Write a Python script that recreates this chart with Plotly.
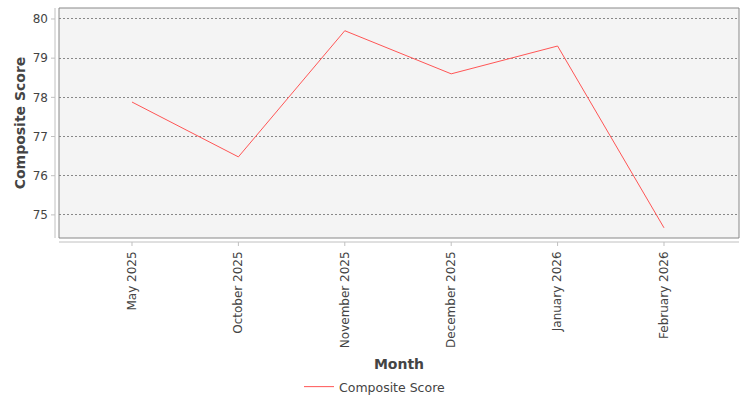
import plotly.graph_objects as go

months = ["May 2025", "October 2025", "November 2025", "December 2025", "January 2026", "February 2026"]
scores = [77.88, 76.48, 79.70, 78.60, 79.31, 74.67]
y_ticks = [75, 76, 77, 78, 79, 80]

W, H = 750, 400
ml, mr, mt, mb = 59, 11, 8, 162
pw, ph = W - ml - mr, H - mt - mb

FONT = "DejaVu Sans"
TXT = "#444444"

fig = go.Figure()
fig.add_trace(go.Scatter(
    x=list(range(len(months))), y=scores, mode="lines", name="Composite Score",
    line=dict(color="#ff5555", width=1),
))

shapes = []
# plot border
shapes.append(dict(type="rect", xref="paper", yref="paper", x0=0, x1=1, y0=0, y1=1,
                   line=dict(color="#888888", width=1), fillcolor="rgba(0,0,0,0)", layer="above"))
# offset axis lines
shapes.append(dict(type="line", xref="paper", yref="paper", x0=-4/pw, x1=-4/pw, y0=0, y1=1,
                   line=dict(color="#c0c0c0", width=1)))
shapes.append(dict(type="line", xref="paper", yref="paper", x0=0, x1=1, y0=-4/ph, y1=-4/ph,
                   line=dict(color="#c0c0c0", width=1)))
# tick marks
for i in range(len(months)):
    shapes.append(dict(type="line", xref="x", yref="paper", x0=i, x1=i, y0=-4/ph, y1=-8/ph,
                       line=dict(color="#c0c0c0", width=1)))
for v in y_ticks:
    shapes.append(dict(type="line", xref="paper", yref="y", x0=-4/pw, x1=-8/pw, y0=v, y1=v,
                       line=dict(color="#c0c0c0", width=1)))

fig.update_layout(
    width=W, height=H,
    margin=dict(l=ml, r=mr, t=mt, b=mb, autoexpand=False),
    paper_bgcolor="white", plot_bgcolor="#f4f4f4",
    font=dict(family=FONT, size=12, color=TXT),
    shapes=shapes,
    showlegend=True,
    legend=dict(orientation="h", xref="container", yref="container", x=0.5, xanchor="center",
                y=1 - 387/400, yanchor="middle", font=dict(size=12.5, color=TXT)),
    xaxis=dict(
        range=[-0.686, 5.705], tickmode="array", tickvals=list(range(len(months))), ticktext=months,
        tickangle=-90, showgrid=False, zeroline=False, showline=False, ticks="",
        ticklabelstandoff=10, tickfont=dict(size=12, color=TXT), automargin=False,
        title=dict(text="<b>Month</b>", font=dict(size=14, color=TXT), standoff=18),
    ),
    yaxis=dict(
        range=[74.41, 80.28], tickmode="array", tickvals=y_ticks,
        showgrid=True, gridcolor="#888888", gridwidth=0.5, griddash="2px,2px",
        zeroline=False, showline=False, ticks="", ticklabelstandoff=10,
        tickfont=dict(size=12, color=TXT), automargin=False,
        title=dict(text="<b>Composite Score</b>", font=dict(size=14, color=TXT), standoff=3),
    ),
)

fig.write_html("out.html")
